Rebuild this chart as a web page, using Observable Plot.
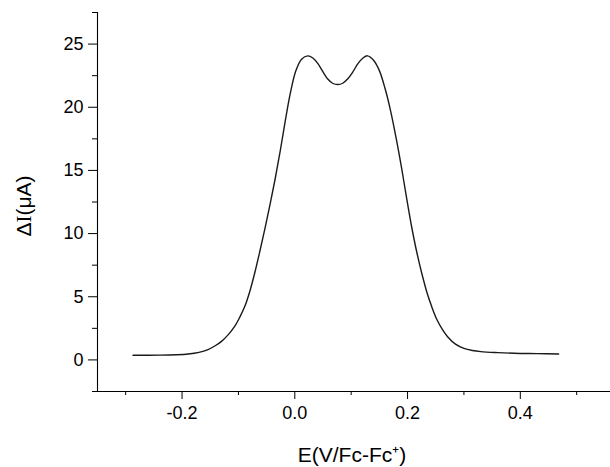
<!DOCTYPE html>
<html>
<head>
<meta charset="utf-8">
<script src="https://cdn.jsdelivr.net/npm/d3@7"></script>
<script src="https://cdn.jsdelivr.net/npm/@observablehq/plot@0.6"></script>
<style>
  html, body { margin: 0; padding: 0; background: #fff; }
  #chart { width: 610px; height: 467px; }
</style>
</head>
<body>
<div id="chart"></div>
<script>
// Potential E (V vs Fc/Fc+)
const potential = [-0.287, -0.240, -0.210, -0.189, -0.170, -0.154, -0.142, -0.130, -0.118, -0.107,
  -0.098, -0.089, -0.080, -0.071, -0.062, -0.053, -0.044, -0.035, -0.026, -0.017,
  -0.008, 0.002, 0.012, 0.023, 0.032, 0.041, 0.050, 0.058, 0.067, 0.076,
  0.085, 0.094, 0.103, 0.112, 0.121, 0.129, 0.140, 0.150, 0.160, 0.170,
  0.180, 0.189, 0.198, 0.207, 0.216, 0.225, 0.234, 0.243, 0.252, 0.262,
  0.271, 0.285, 0.300, 0.315, 0.330, 0.360, 0.389, 0.430, 0.468];
// Current ΔI (µA)
const current = [0.37, 0.38, 0.41, 0.47, 0.60, 0.82, 1.10, 1.47, 2.00, 2.63,
  3.35, 4.20, 5.40, 6.90, 8.60, 10.4, 12.3, 14.3, 16.5, 18.9,
  21.1, 22.9, 23.8, 24.07, 23.9, 23.45, 22.8, 22.25, 21.9, 21.8,
  21.9, 22.25, 22.8, 23.45, 23.9, 24.07, 23.7, 22.9, 21.5, 19.7,
  17.5, 15.3, 12.9, 10.6, 8.6, 6.9, 5.4, 4.2, 3.2, 2.4,
  1.84, 1.25, 0.92, 0.75, 0.66, 0.58, 0.53, 0.50, 0.47];

const xMajorTicks = [-0.2, 0.0, 0.2, 0.4];
const xMinorTicks = [-0.3, -0.1, 0.1, 0.3, 0.5];
const yMajorTicks = [0, 5, 10, 15, 20, 25];
const yMinorTicks = [-2.5, 2.5, 7.5, 12.5, 17.5, 22.5, 27.5];
const xDomain = [-0.35, 0.56];
const yDomain = [-2.5, 27.5];
const xTitle = "E(V/Fc-Fc⁺)";

const data = potential.map((e, i) => ({e, i: current[i]}));

const plot = Plot.plot({
  width: 610,
  height: 467,
  marginLeft: 97,
  marginRight: 0,
  marginTop: 12,
  marginBottom: 76,
  style: {fontFamily: "'Liberation Sans', Arial, sans-serif", fontSize: "18px", color: "#000", background: "#fff"},
  x: {domain: xDomain, axis: null},
  y: {domain: yDomain, axis: null},
  marks: [
    Plot.ruleX([xDomain[0]], {stroke: "#000", strokeWidth: 1.1}),
    Plot.ruleY([yDomain[0]], {stroke: "#000", strokeWidth: 1.1}),
    Plot.axisX({ticks: xMajorTicks, tickSize: 8, tickPadding: 7, tickFormat: d => d.toFixed(1), label: null, stroke: "#000"}),
    Plot.axisX({ticks: xMinorTicks, tickSize: 4, tickFormat: () => "", label: null, stroke: "#000"}),
    Plot.axisY({ticks: yMajorTicks, tickSize: 9, tickPadding: 5, tickFormat: d => String(d), label: null, stroke: "#000"}),
    Plot.axisY({ticks: yMinorTicks, tickSize: 5, tickFormat: () => "", label: null, stroke: "#000"}),
    Plot.line(data, {x: "e", y: "i", curve: "catmull-rom", stroke: "#1a1a1a", strokeWidth: 1.4})
  ]
});

const svg = d3.select(plot);
svg.append("text")
  .attr("x", 352)
  .attr("y", 462)
  .attr("text-anchor", "middle")
  .attr("font-size", 21)
  .attr("font-family", "'Liberation Sans', Arial, sans-serif")
  .attr("fill", "#000")
  .text(xTitle);

const yt = svg.append("text")
  .attr("transform", "translate(31,206) rotate(-90)")
  .attr("text-anchor", "middle")
  .attr("font-size", 21)
  .attr("font-family", "'Liberation Sans', Arial, sans-serif")
  .attr("fill", "#000");
yt.append("tspan").text("Δ");
yt.append("tspan").attr("font-family", "'Liberation Serif', serif").text("I");
yt.append("tspan").text("(μA)");

document.getElementById("chart").appendChild(plot);
</script>
</body>
</html>
